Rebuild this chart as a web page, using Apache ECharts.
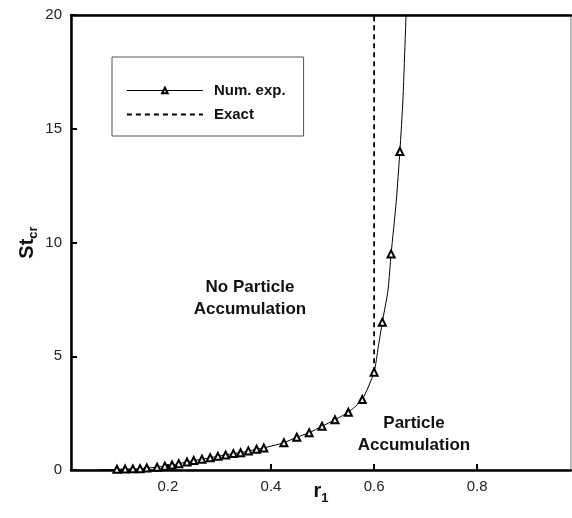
<!DOCTYPE html>
<html>
<head>
<meta charset="utf-8">
<script src="https://cdn.jsdelivr.net/npm/echarts@6/dist/echarts.min.js"></script>
<style>
  html, body { margin: 0; padding: 0; background: #fff; }
  #chart { width: 572px; height: 518px; }
</style>
</head>
<body>
<div id="chart"></div>
<script>
// triangles of the numerical experiment (r1, St_cr)
const markR = [0.101, 0.117, 0.132, 0.146, 0.159, 0.179, 0.194, 0.208, 0.221, 0.237, 0.250, 0.266, 0.282, 0.297, 0.312, 0.327, 0.341, 0.356, 0.372, 0.386, 0.425, 0.450, 0.474, 0.499, 0.524, 0.550, 0.577, 0.600, 0.616, 0.633, 0.650];
const markSt = [0.03, 0.04, 0.05, 0.06, 0.09, 0.12, 0.17, 0.22, 0.28, 0.35, 0.42, 0.47, 0.54, 0.60, 0.66, 0.72, 0.76, 0.84, 0.91, 0.97, 1.20, 1.44, 1.64, 1.92, 2.21, 2.54, 3.10, 4.30, 6.50, 9.50, 14.0];
// extra points of the solid line without a marker
const lineR = [0.064, 0.085, 0.608, 0.627, 0.643, 0.656, 0.662, 0.666];
const lineSt = [0.0, 0.01, 5.4, 7.9, 11.8, 16.3, 20.0, 22.5];
// exact solution: vertical asymptote
const exactR = [0.6, 0.6];
const exactSt = [4.3, 21];

const xTicks = [0.2, 0.4, 0.6, 0.8];

let numData = [];
for (let i = 0; i < markR.length; i++) {
  numData.push({ value: [markR[i], markSt[i]] });
}
for (let i = 0; i < lineR.length; i++) {
  numData.push({ value: [lineR[i], lineSt[i]], symbol: 'none' });
}
numData.sort((a, b) => a.value[0] - b.value[0]);

let exactData = exactR.map((r, i) => [r, exactSt[i]]);

const font = '"Liberation Sans", Arial, Helvetica, sans-serif';

let myChart = echarts.init(document.getElementById('chart'));
myChart.setOption({
  animation: false,
  backgroundColor: '#fff',
  grid: {
    left: 71, right: 1, top: 15, bottom: 48,
    show: true, borderColor: '#777', borderWidth: 1
  },
  legend: {
    orient: 'vertical',
    left: 112, top: 57,
    padding: [26, 18, 14, 14],
    borderColor: '#555', borderWidth: 1,
    itemWidth: 76, itemHeight: 7, itemGap: 9,
    lineStyle: { width: 1 },
    textStyle: { fontFamily: font, fontWeight: 'bold', fontSize: 15, color: '#111', padding: [0, 0, 0, 6] },
    data: [
      { name: 'Num. exp.' },
      { name: 'Exact', itemStyle: { opacity: 0 }, lineStyle: { width: 1.8 } }
    ]
  },
  xAxis: [{
    type: 'value',
    min: 0.012, max: 0.982,
    name: 'r{sub|1}',
    nameLocation: 'middle',
    nameGap: 8,
    nameMoveOverlap: false,
    nameTextStyle: {
      fontFamily: font, fontWeight: 'bold', fontSize: 20, color: '#111',
      rich: { sub: { fontFamily: font, fontWeight: 'bold', fontSize: 13, color: '#111', verticalAlign: 'bottom', padding: [14, 0, 0, 0] } }
    },
    axisLine: { lineStyle: { color: '#000', width: 2.5 } },
    axisTick: { inside: true, length: 6, customValues: xTicks, lineStyle: { color: '#000', width: 2 } },
    axisLabel: { customValues: xTicks, fontFamily: font, fontSize: 15, color: '#222', margin: 9 },
    splitLine: { show: false }
  }, {
    type: 'value',
    position: 'top',
    min: 0.012, max: 0.982,
    axisLine: { show: true, lineStyle: { color: '#000', width: 2.5 } },
    axisTick: { show: false },
    axisLabel: { show: false },
    splitLine: { show: false }
  }],
  yAxis: {
    type: 'value',
    min: 0, max: 20, interval: 5,
    name: 'St{sub|cr}',
    nameLocation: 'middle',
    nameRotate: 90,
    nameGap: 31,
    nameMoveOverlap: false,
    nameTextStyle: {
      fontFamily: font, fontWeight: 'bold', fontSize: 20, color: '#111',
      rich: { sub: { fontFamily: font, fontWeight: 'bold', fontSize: 13, color: '#111', verticalAlign: 'bottom', padding: [12, 0, 0, 0] } }
    },
    axisLine: { show: true, lineStyle: { color: '#000', width: 2.5 } },
    axisTick: { inside: true, length: 6, lineStyle: { color: '#000', width: 2 } },
    axisLabel: { fontFamily: font, fontSize: 15, color: '#222', margin: 9 },
    splitLine: { show: false }
  },
  graphic: [
    { type: 'text', x: 250, y: 276, style: { text: 'No Particle\nAccumulation', textAlign: 'center', align: 'center', font: 'bold 17px ' + font, fill: '#111', lineHeight: 22 } },
    { type: 'text', x: 414, y: 412, style: { text: 'Particle\nAccumulation', textAlign: 'center', align: 'center', font: 'bold 17px ' + font, fill: '#111', lineHeight: 22 } }
  ],
  series: [
    {
      name: 'Num. exp.',
      type: 'line',
      data: numData,
      symbol: 'emptyTriangle',
      symbolSize: 7,
      smooth: 0.2,
      clip: true,
      lineStyle: { color: '#000', width: 1 },
      itemStyle: { color: '#000', borderWidth: 0.6 },
      z: 3
    },
    {
      name: 'Exact',
      type: 'line',
      data: exactData,
      symbol: 'none',
      clip: true,
      itemStyle: { color: '#000' },
      lineStyle: { color: '#000', width: 1.8, type: [5, 4] },
      z: 2
    }
  ]
});
</script>
</body>
</html>
